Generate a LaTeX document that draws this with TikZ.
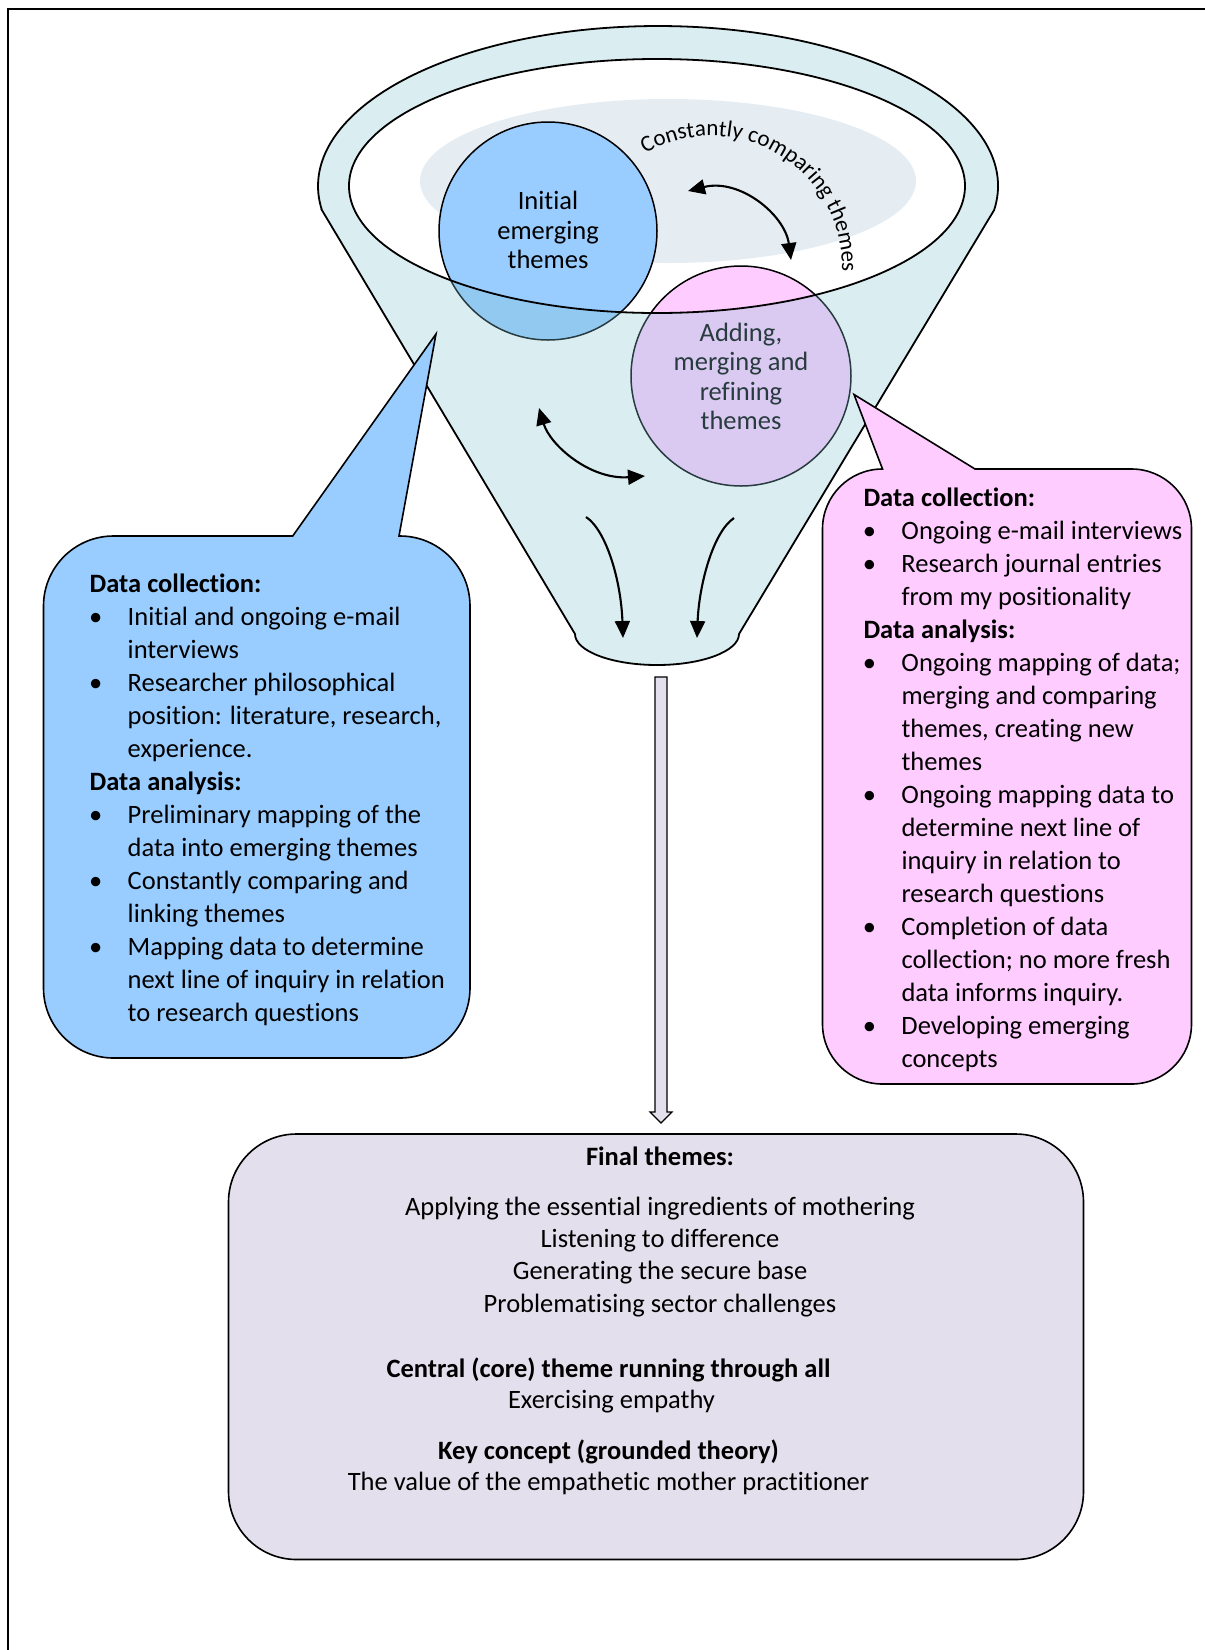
\documentclass[tikz,border=0pt]{standalone}
\usepackage{fontspec}
\setmainfont{Carlito}[Ligatures=NoCommon]
\usetikzlibrary{arrows.meta,calc,decorations.text}

\definecolor{funnelc}{RGB}{133,196,209}
\definecolor{comparec}{RGB}{229,237,243}
\definecolor{bluec}{RGB}{153,204,255}
\definecolor{pinkc}{RGB}{255,204,255}
\definecolor{finalc}{RGB}{228,223,236}

% bullet and hanging indent for the callout lists
\newcommand\callbul{\makebox[38pt][l]{\makebox[12pt]{\textbullet}}}
\newcommand\callind{\hspace*{38pt}}

\begin{document}
\begin{tikzpicture}[x=1pt,y=-1pt,
  bodyfont/.style={font=\fontsize{26.5}{33}\selectfont},
  circfont/.style={font=\fontsize{26.5}{29.5}\selectfont},
  themecircle/.style={circle, draw, line width=1.5pt, inner sep=0pt},
  flowarrow/.style={line width=2.1pt, -{Triangle[length=17pt,width=15pt]}},
  dblarrow/.style={line width=2.1pt, {Triangle[length=17pt,width=15pt]}-{Triangle[length=17pt,width=15pt]}},
  callout/.style={draw, line width=1.6pt, line join=miter},
  finaltext/.style={bodyfont, anchor=base, inner sep=0pt}]

\useasboundingbox (0,0) rectangle (1205,1650);
\fill[white] (0,0) rectangle (1205,1650);
\draw[line width=2.2pt] (8,1650) -- (8,9) -- (1205,9);

% soft background of the comparison loop
\fill[comparec] (668,181) ellipse[x radius=248, y radius=82];
\path[decorate, decoration={text along path, text align=center,
    text={|\fontsize{23}{23}\selectfont|Constantly comparing themes}}]
  (711,267) ++(-121:131) arc[start angle=-121, end angle=3, radius=131];

% theme circles
\node[themecircle, fill=bluec, minimum size=218pt] (initc) at (548,231) {};
\node[themecircle, fill=pinkc, minimum size=220pt] (addc) at (741,376) {};
\node[circfont, anchor=north, align=center, inner sep=0pt] (inittxt) at (548,188.85)
  {\strut Initial\\emerging\\themes};
\node[circfont, anchor=north, align=center, inner sep=0pt] (addtxt) at (741,320.35)
  {\strut Adding,\\merging and\\refining\\themes};

% funnel: translucent body with open mouth
\path[draw, line width=1.8pt, fill=funnelc, fill opacity=0.3, even odd rule]
  (321.85,210) -- (575,634)
  arc[start angle=180, end angle=0, x radius=82, y radius=31]
  -- (994.15,210)
  arc[start angle=8.627, end angle=-188.627, x radius=340, y radius=160]
  -- cycle
  (657,186) ellipse[x radius=308, y radius=127];

% arrows inside the funnel
\coordinate (cmpA) at (688,191);
\coordinate (cmpB) at (791,260);
\coordinate (mrgA) at (539,408);
\coordinate (mrgB) at (645,476);
\coordinate (dropLs) at (586,517);
\coordinate (dropLe) at (623,638);
\coordinate (dropRs) at (734,518);
\coordinate (dropRe) at (697,638);
\draw[dblarrow] (cmpA) .. controls (740,178) and (785,215) .. (cmpB);
\draw[dblarrow] (mrgA) .. controls (550,445) and (590,480) .. (mrgB);
\draw[flowarrow] (dropLs) .. controls (606,530) and (621,580) .. (dropLe);
\draw[flowarrow] (dropRs) .. controls (713,532) and (699,585) .. (dropRe);

% left callout
\draw[callout, fill=bluec]
  (292.7,536) -- (436,334) -- (399,536) -- (400,536)
  arc[start angle=-90, end angle=0, radius=70] -- (470,988)
  arc[start angle=0, end angle=90, radius=70] -- (113.5,1058)
  arc[start angle=90, end angle=180, radius=70] -- (43.5,606)
  arc[start angle=180, end angle=270, radius=70] -- cycle;
\node[bodyfont, anchor=north west, align=left, inner sep=0pt] (bluetxt) at (89.5,568.9) {%
\strut\textbf{Data collection:}\\
\callbul Initial and ongoing e-mail\\
\callind interviews\\
\callbul Researcher philosophical\\
\callind position: literature, research,\\
\callind experience.\\
\textbf{Data analysis:}\\
\callbul Preliminary mapping of the\\
\callind data into emerging themes\\
\callbul Constantly comparing and\\
\callind linking themes\\
\callbul Mapping data to determine\\
\callind next line of inquiry in relation\\
\callind to research questions};

% right callout
\draw[callout, fill=pinkc]
  (882.5,469) -- (854,394.5) -- (975,469) -- (1131.5,469)
  arc[start angle=-90, end angle=0, radius=60] -- (1191.5,1024)
  arc[start angle=0, end angle=90, radius=60] -- (882.5,1084)
  arc[start angle=90, end angle=180, radius=60] -- (822.5,529)
  arc[start angle=180, end angle=270, radius=60] -- cycle;
\node[bodyfont, anchor=north west, align=left, inner sep=0pt] (pinktxt) at (863.3,482.9) {%
\strut\textbf{Data collection:}\\
\callbul Ongoing e-mail interviews\\
\callbul Research journal entries\\
\callind from my positionality\\
\textbf{Data analysis:}\\
\callbul Ongoing mapping of data;\\
\callind merging and comparing\\
\callind themes, creating new\\
\callind themes\\
\callbul Ongoing mapping data to\\
\callind determine next line of\\
\callind inquiry in relation to\\
\callind research questions\\
\callbul Completion of data\\
\callind collection; no more fresh\\
\callind data informs inquiry.\\
\callbul Developing emerging\\
\callind concepts};

% final themes box and the arrow leading into it
\node[draw, line width=1.6pt, fill=finalc, rounded corners=68pt, inner sep=0pt,
  minimum width=855pt, minimum height=425.5pt] (final) at (656,1346.75) {};
\coordinate (btop) at (661,677);
\coordinate (btip) at (661,1123);
\draw[fill=finalc, line width=1.2pt, line join=miter]
  ($(btop)+(-6,0)$) -- ($(btop)+(6,0)$) -- ($(btip)+(6,-11)$) -- ($(btip)+(11,-11)$)
  -- (btip) -- ($(btip)+(-11,-11)$) -- ($(btip)+(-6,-11)$) -- cycle;

\node[finaltext, font=\fontsize{26.5}{33}\selectfont\bfseries] (ftitle) at (660,1165) {Final themes:};
\node[finaltext] (th1) at (660,1215) {Applying the essential ingredients of mothering};
\node[finaltext] (th2) at (660,1247) {Listening to difference};
\node[finaltext] (th3) at (660,1279.5) {Generating the secure base};
\node[finaltext] (th4) at (660,1312) {Problematising sector challenges};
\node[finaltext, font=\fontsize{26.5}{33}\selectfont\bfseries] (corehead) at (608.5,1377) {Central (core) theme running through all};
\node[finaltext] (core) at (611.5,1408) {Exercising empathy};
\node[finaltext, font=\fontsize{26.5}{33}\selectfont\bfseries] (keyhead) at (608.5,1459) {Key concept (grounded theory)};
\node[finaltext] (key) at (608.5,1490.5) {The value of the empathetic mother practitioner};

\end{tikzpicture}
\end{document}
